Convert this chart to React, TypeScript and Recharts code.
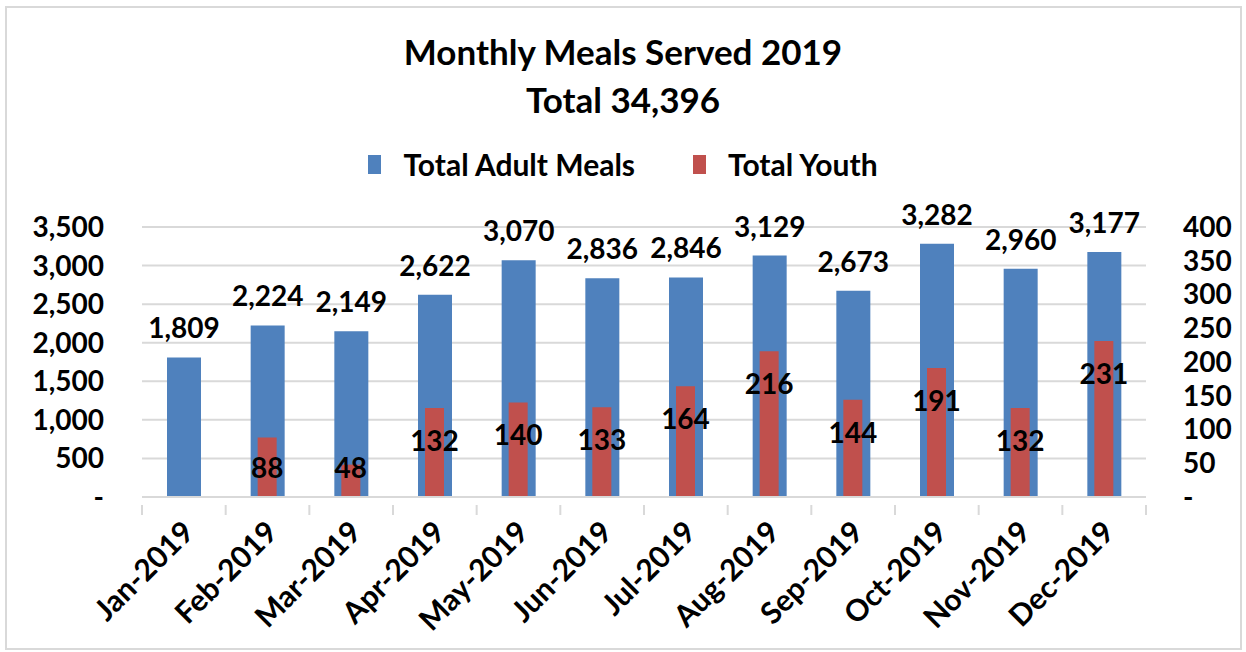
import { BarChart, Bar, XAxis, YAxis, CartesianGrid, LabelList } from 'recharts';

const months = [
  'Jan-2019', 'Feb-2019', 'Mar-2019', 'Apr-2019', 'May-2019', 'Jun-2019',
  'Jul-2019', 'Aug-2019', 'Sep-2019', 'Oct-2019', 'Nov-2019', 'Dec-2019',
];
const adultMeals = [1809, 2224, 2149, 2622, 3070, 2836, 2846, 3129, 2673, 3282, 2960, 3177];
const youthMeals = [0, 88, 48, 132, 140, 133, 164, 216, 144, 191, 132, 231];
const leftTicks = [0, 500, 1000, 1500, 2000, 2500, 3000, 3500];
const rightTicks = [0, 50, 100, 150, 200, 250, 300, 350, 400];

const FONT = 'Lato, Carlito, Calibri, sans-serif';
const BLUE = '#4F81BD';
const RED = '#C0504D';
const GRID = '#D9D9D9';

const W = 1246;
const H = 652;
const MARGIN = { top: 227, right: 0, bottom: 0, left: 0 };
const LEFT_W = 142;
const RIGHT_W = 100;

const fmt = (v: number) => (v === 0 ? '-' : v.toLocaleString('en-US'));

const chartData = months.map((m, i) => ({
  month: m,
  adult: adultMeals[i],
  youth: youthMeals[i],
}));

const bandWidth = (W - LEFT_W - RIGHT_W) / months.length;

function MonthTick(props: any) {
  const { x, y, payload, index } = props;
  const half = bandWidth / 2;
  return (
    <g>
      <line x1={x - half} x2={x - half} y1={y} y2={y + 10} stroke={GRID} strokeWidth={2} />
      {index === months.length - 1 && (
        <line x1={x + half} x2={x + half} y1={y} y2={y + 10} stroke={GRID} strokeWidth={2} />
      )}
      <g transform={`translate(${x - 3},${y + 14})`}>
        <text
          x={0}
          y={0}
          dy="0.7em"
          textAnchor="end"
          transform="rotate(-45)"
          fontFamily={FONT}
          fontWeight="bold"
          fontSize={30}
          fill="#000"
        >
          {payload.value}
        </text>
      </g>
    </g>
  );
}

function YouthLabel(props: any) {
  const { x, y, width, height, value } = props;
  const bottom = y + height;
  const cy = Math.min(y + 33, bottom - 29);
  return (
    <text
      x={x + width / 2}
      y={cy}
      dy="0.35em"
      textAnchor="middle"
      fontFamily={FONT}
      fontWeight="bold"
      fontSize={28}
      fill="#000"
    >
      {fmt(value)}
    </text>
  );
}

const tickStyle = { fontFamily: FONT, fontWeight: 'bold', fontSize: 28, fill: '#000' };

export default function App() {
  return (
    <div style={{ position: 'absolute', left: 0, top: 0, width: W, height: H, background: '#fff' }}>
      <div
        style={{
          position: 'absolute',
          left: 5,
          top: 6,
          width: 1233,
          height: 640,
          border: `2px solid ${GRID}`,
        }}
      />
      <div
        style={{
          position: 'absolute',
          left: 0,
          top: 27,
          width: W,
          textAlign: 'center',
          fontFamily: FONT,
          fontWeight: 'bold',
          fontSize: 35,
          lineHeight: '48px',
          color: '#000',
        }}
      >
        <div>Monthly Meals Served 2019</div>
        <div>Total 34,396</div>
      </div>
      <div
        style={{
          position: 'absolute',
          left: 0,
          top: 146,
          width: W,
          display: 'flex',
          justifyContent: 'center',
          alignItems: 'center',
          fontFamily: FONT,
          fontWeight: 'bold',
          fontSize: 30,
          color: '#000',
        }}
      >
        <span style={{ display: 'inline-block', width: 13, height: 19, background: BLUE, marginRight: 22 }} />
        <span style={{ marginRight: 58 }}>Total Adult Meals</span>
        <span style={{ display: 'inline-block', width: 13, height: 19, background: RED, marginRight: 22 }} />
        <span>Total Youth</span>
      </div>
      <div style={{ position: 'absolute', left: 0, top: 0 }}>
        <BarChart width={W} height={H} data={chartData} margin={MARGIN}>
          <CartesianGrid yAxisId="left" vertical={false} stroke={GRID} strokeWidth={2} />
          <XAxis
            xAxisId="main"
            dataKey="month"
            height={H - 497}
            interval={0}
            stroke={GRID}
            strokeWidth={2}
            tickLine={false}
            tick={<MonthTick />}
          />
          <XAxis xAxisId="over" dataKey="month" hide />
          <YAxis
            yAxisId="left"
            orientation="left"
            width={LEFT_W}
            domain={[0, 3500]}
            ticks={leftTicks}
            axisLine={false}
            tickLine={false}
            tickSize={0}
            tickMargin={38}
            tickFormatter={fmt}
            tick={tickStyle}
            interval={0}
          />
          <YAxis
            yAxisId="right"
            orientation="right"
            width={RIGHT_W}
            domain={[0, 400]}
            ticks={rightTicks}
            axisLine={false}
            tickLine={false}
            tickSize={0}
            tickMargin={37}
            tickFormatter={fmt}
            tick={tickStyle}
            interval={0}
          />
          <Bar
            dataKey="adult"
            name="Total Adult Meals"
            xAxisId="main"
            yAxisId="left"
            fill={BLUE}
            barSize={34}
            isAnimationActive={false}
          >
            <LabelList
              dataKey="adult"
              position="top"
              offset={19}
              formatter={(v: any) => fmt(Number(v))}
              style={{ fontFamily: FONT, fontWeight: 'bold', fontSize: 28, fill: '#000' }}
            />
          </Bar>
          <Bar
            dataKey="youth"
            name="Total Youth"
            xAxisId="over"
            yAxisId="right"
            fill={RED}
            barSize={19}
            isAnimationActive={false}
          >
            <LabelList dataKey="youth" content={<YouthLabel />} />
          </Bar>
        </BarChart>
      </div>
    </div>
  );
}
